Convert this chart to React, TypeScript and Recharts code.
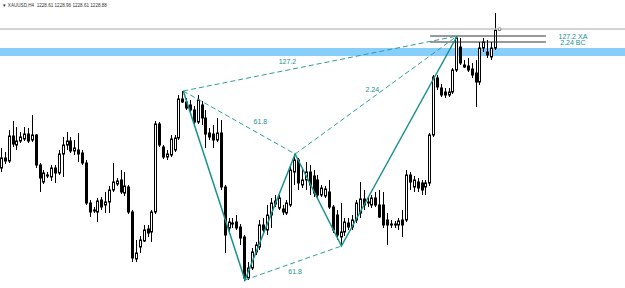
import React from 'react';
import { ComposedChart, Bar, Line, XAxis, YAxis, ReferenceLine, ReferenceArea, ReferenceDot } from 'recharts';

// candle values, in chart units (0 = top of plot, 288 = bottom)
const opens = [
  168, 158, 161, 136, 145, 141, 139, 134, 140, 135,
  165, 182, 175, 177, 168, 173, 154, 145, 141, 151,
  150, 153, 163, 203, 211, 212, 200, 205, 202, 190,
  184, 180, 193, 187, 212, 259, 247, 241, 229, 232,
  212, 124, 147, 157, 155, 150, 138, 99, 102, 105,
  110, 122, 105, 118, 133, 134, 140, 133, 187, 228,
  223, 222, 227, 237, 278, 268, 252, 247, 225, 230,
  215, 201, 208, 209, 213, 205, 172, 160, 185, 180,
  172, 176, 180, 195, 196, 192, 207, 215, 237, 232,
  223, 227, 220, 213, 199, 203, 205, 198, 205, 205,
  220, 224, 225, 225, 220, 220, 175, 187, 182, 183,
  187, 183, 135, 78, 88, 92, 95, 92, 70, 47,
  65, 66, 69, 73, 82, 48, 52, 57, 48, 30,
];
const highs = [
  148, 152, 130, 121, 127, 132, 127, 128, 115, 134,
  163, 170, 172, 165, 165, 150, 137, 132, 137, 140,
  133, 150, 160, 200, 207, 198, 197, 192, 186, 163,
  178, 170, 172, 185, 210, 240, 236, 225, 225, 210,
  121, 122, 145, 150, 135, 135, 95, 91, 98, 100,
  106, 95, 101, 110, 128, 125, 118, 120, 185, 218,
  218, 215, 224, 235, 262, 248, 242, 220, 218, 205,
  198, 195, 195, 205, 200, 165, 154, 158, 168, 162,
  165, 170, 175, 185, 186, 180, 205, 210, 203, 218,
  218, 215, 200, 182, 190, 197, 195, 192, 190, 192,
  213, 220, 221, 218, 210, 170, 172, 176, 178, 180,
  180, 133, 75, 75, 84, 88, 88, 68, 36, 38,
  60, 58, 63, 60, 42, 38, 40, 42, 13, 28,
];
const lows = [
  172, 164, 163, 147, 150, 143, 141, 143, 142, 168,
  192, 184, 178, 181, 183, 175, 177, 150, 153, 155,
  162, 165, 205, 217, 213, 222, 210, 213, 213, 192,
  186, 194, 196, 214, 262, 262, 253, 242, 237, 242,
  214, 147, 159, 160, 157, 152, 140, 103, 110, 112,
  125, 124, 125, 148, 140, 148, 142, 190, 253, 232,
  228, 230, 245, 281, 280, 270, 255, 250, 232, 235,
  228, 207, 210, 215, 215, 207, 185, 190, 188, 190,
  195, 197, 198, 197, 198, 209, 233, 240, 246, 236,
  230, 230, 223, 218, 210, 207, 208, 207, 218, 228,
  245, 228, 228, 230, 237, 222, 190, 192, 192, 195,
  195, 186, 137, 90, 97, 98, 97, 94, 72, 65,
  68, 72, 78, 107, 85, 52, 58, 60, 50, 31,
];
const closes = [
  158, 161, 136, 144, 141, 137, 134, 141, 135, 165,
  178, 173, 176, 168, 173, 154, 145, 141, 151, 148,
  154, 163, 203, 212, 210, 201, 207, 202, 190, 182,
  181, 192, 186, 212, 258, 253, 240, 230, 233, 212,
  124, 145, 157, 154, 139, 138, 99, 102, 108, 110,
  122, 100, 118, 134, 137, 140, 133, 187, 235, 222,
  224, 228, 238, 278, 268, 252, 245, 225, 230, 215,
  203, 204, 198, 212, 203, 170, 160, 183, 180, 172,
  185, 193, 195, 188, 189, 207, 230, 235, 232, 222,
  227, 220, 203, 199, 205, 202, 198, 205, 217, 225,
  225, 225, 224, 221, 225, 175, 182, 180, 188, 190,
  183, 135, 77, 87, 95, 95, 92, 70, 38, 63,
  67, 70, 75, 82, 48, 42, 55, 48, 30, 29,
];

// harmonic pattern X A B C D
const pointNames = ['X', 'A', 'B', 'C', 'D'];
const pointIdx = [47, 63, 76, 88, 118];
const pointVal = [91, 280, 154, 246, 36];

const slotCount = 162;
const bidLevel = 29;
const zoneTop = 48;
const zoneBottom = 56;
const targetLevels = [36, 42];
const targetLabels = ['127.2 XA', '2.24 BC'];
const targetFrom = 111;
const targetTo = 141;

const ratioLabels = ['127.2', '61.8', '2.24', '61.8'];
const ratioIdx = [74, 67, 96, 76];
const ratioVal = [62, 122, 90, 272];

const TEAL = '#17918f';
const TEAL_LIGHT = '#2c9f9d';

const pv = (name: string) => pointVal[pointNames.indexOf(name)];
const pi = (name: string) => pointIdx[pointNames.indexOf(name)];

const rows = Array.from({ length: slotCount }, (_, i) => {
  const row: any = { i };
  if (i < opens.length) {
    row.o = opens[i];
    row.h = highs[i];
    row.l = lows[i];
    row.c = closes[i];
  }
  const k = pointIdx.indexOf(i);
  if (k >= 0) row.zz = pointVal[k];
  if (i === pi('X')) { row.xb = pv('X'); row.xd = pv('X'); }
  if (i === pi('B')) { row.xb = pv('B'); row.bd = pv('B'); }
  if (i === pi('A')) row.ac = pv('A');
  if (i === pi('C')) row.ac = pv('C');
  if (i === pi('D')) { row.bd = pv('D'); row.xd = pv('D'); }
  return row;
});

const Candle = (props: any) => {
  const { x, y, width, height, payload } = props;
  if (!payload || payload.o == null) return null;
  const top = Math.min(y, y + height);
  const bot = Math.max(y, y + height);
  const span = payload.l - payload.h;
  const k = span > 0 ? (bot - top) / span : 1;
  const py = (v: number) => top + (v - payload.h) * k;
  const xl = Math.round(x + width / 2 - 1.5);
  const bull = payload.c < payload.o;
  const bTop = py(Math.min(payload.o, payload.c));
  const bBot = py(Math.max(payload.o, payload.c));
  return (
    <g>
      <line x1={xl + 1.5} x2={xl + 1.5} y1={top} y2={bot} stroke="#000" strokeWidth={1} />
      <rect
        x={xl + 0.5}
        y={bTop}
        width={2}
        height={Math.max(bBot - bTop, 0.8)}
        fill={bull ? '#fff' : '#000'}
        stroke="#000"
        strokeWidth={1}
      />
    </g>
  );
};

const labelStyle = { fill: TEAL, fontSize: 7, fontFamily: 'Liberation Sans, Arial, sans-serif' };

export default function App() {
  return (
    <div style={{ position: 'absolute', left: 0, top: 0, width: 625, height: 288, background: '#fff' }}>
      <ComposedChart width={625} height={288} data={rows} margin={{ top: 0, right: 0, bottom: 0, left: 0 }}>
        <XAxis dataKey="i" type="category" hide />
        <YAxis type="number" domain={[0, 288]} reversed hide allowDataOverflow />
        <ReferenceArea y1={zoneTop} y2={zoneBottom} fill="#87cefa" fillOpacity={1} stroke="none" ifOverflow="extendDomain" />
        <ReferenceLine y={bidLevel} stroke="#c4c4c4" strokeWidth={1.5} />
        {targetLevels.map((lv, n) => (
          <ReferenceLine
            key={`t${n}`}
            segment={[{ x: targetFrom, y: lv }, { x: targetTo, y: lv }]}
            stroke="#333"
            strokeWidth={1}
          />
        ))}
        <Bar
          dataKey={(d: any) => (d.o == null ? undefined : [d.h, d.l])}
          barSize={3}
          isAnimationActive={false}
          shape={(p: any) => <Candle {...p} />}
        />
        <Line dataKey="xb" stroke={TEAL_LIGHT} strokeWidth={1} strokeDasharray="5 3" dot={false} connectNulls isAnimationActive={false} />
        <Line dataKey="ac" stroke={TEAL_LIGHT} strokeWidth={1} strokeDasharray="5 3" dot={false} connectNulls isAnimationActive={false} />
        <Line dataKey="bd" stroke={TEAL_LIGHT} strokeWidth={1} strokeDasharray="5 3" dot={false} connectNulls isAnimationActive={false} />
        <Line dataKey="xd" stroke={TEAL_LIGHT} strokeWidth={1} strokeDasharray="5 3" dot={false} connectNulls isAnimationActive={false} />
        <Line dataKey="zz" stroke={TEAL} strokeWidth={1.5} dot={false} connectNulls isAnimationActive={false} />
        {ratioLabels.map((t, n) => (
          <ReferenceDot
            key={`r${n}`}
            x={ratioIdx[n]}
            y={ratioVal[n]}
            r={0}
            fill="none"
            stroke="none"
            label={{ value: t, position: 'center', ...labelStyle }}
          />
        ))}
        {targetLabels.map((t, n) => (
          <ReferenceDot
            key={`tl${n}`}
            x={148}
            y={targetLevels[n] + 1}
            r={0}
            fill="none"
            stroke="none"
            label={{ value: t, position: 'center', ...labelStyle }}
          />
        ))}
        <ReferenceDot x={opens.length - 1} y={bidLevel} r={1.5} fill="#fff" stroke="#777" strokeWidth={0.8} />
      </ComposedChart>
      <div
        style={{
          position: 'absolute',
          left: 2,
          top: 3,
          fontSize: 4.6,
          lineHeight: '6px',
          fontFamily: 'Liberation Sans, Arial, sans-serif',
          color: '#333',
          whiteSpace: 'nowrap',
        }}
      >
        ▼ XAUUSD,H4&nbsp;&nbsp;1228.61 1228.96 1228.61 1228.88
      </div>
    </div>
  );
}
